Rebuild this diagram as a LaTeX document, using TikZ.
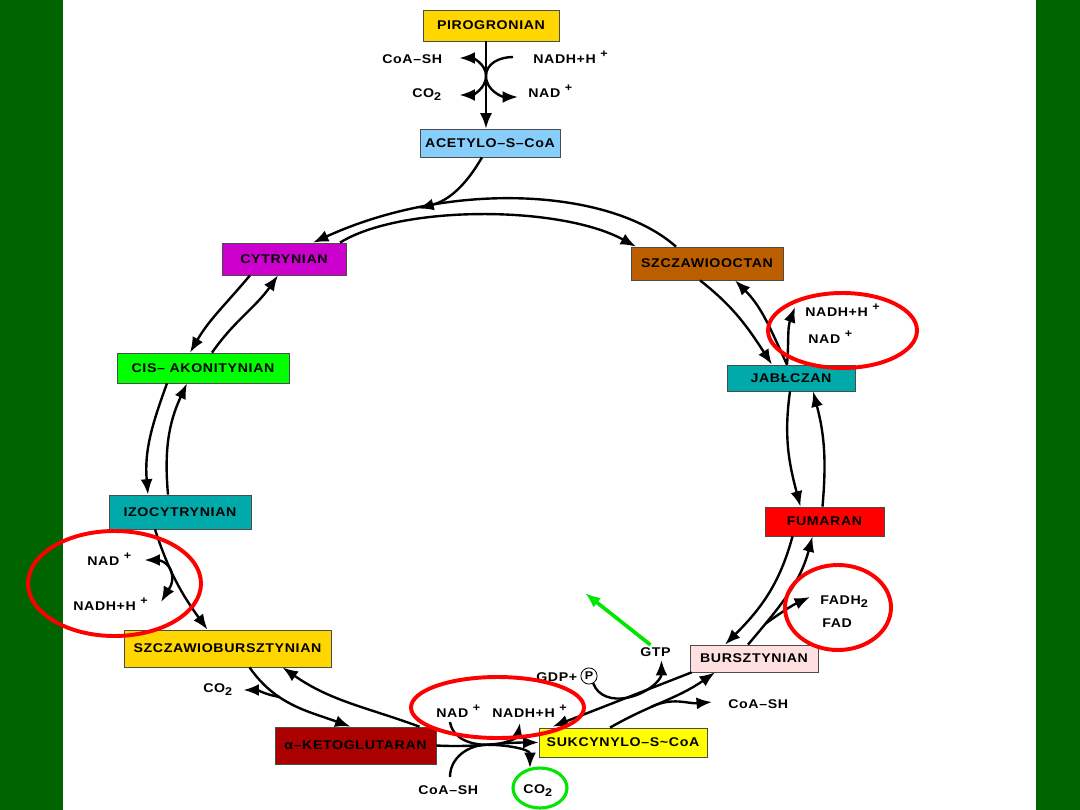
\documentclass[tikz,border=0pt]{standalone}
\usepackage{fontspec}
\setmainfont{Liberation Sans}[FakeStretch=1.12,LetterSpace=5]
\usetikzlibrary{calc,arrows.meta}
\usepackage{xcolor}

\definecolor{bggreen}{RGB}{0,100,0}
\definecolor{cgold}{RGB}{255,214,0}
\definecolor{cskyb}{RGB}{135,206,250}
\definecolor{cmagenta}{RGB}{204,0,204}
\definecolor{cbrown}{RGB}{187,94,0}
\definecolor{clime}{RGB}{0,255,0}
\definecolor{cteal}{RGB}{0,170,170}
\definecolor{cred}{RGB}{255,0,0}
\definecolor{cpink}{RGB}{255,224,224}
\definecolor{cdarkred}{RGB}{170,0,0}
\definecolor{cyellow}{RGB}{255,255,0}
\definecolor{ringgreen}{RGB}{0,230,0}

\newcommand{\upmark}[1]{\raisebox{0.75ex}{\fontsize{8}{8}\selectfont #1}}
\newcommand{\lowmark}[1]{\raisebox{-0.55ex}{\fontsize{8}{8}\selectfont #1}}

\begin{document}
\begin{tikzpicture}[x=0.025cm,y=-0.025cm,
    box/.style={draw=black!70,line width=0.5pt,inner sep=0pt,font=\bfseries\fontsize{9}{10}\selectfont},
    lbl/.style={anchor=base west,inner sep=0pt,font=\bfseries\fontsize{9}{10}\selectfont},
    arr/.style={line width=1.7pt,-{Latex[length=11pt,width=8.5pt]}},
    twoway/.style={line width=1.7pt,{Latex[length=11pt,width=8.5pt]}-{Latex[length=11pt,width=8.5pt]}},
    ring/.style={draw=red,line width=2.8pt}
  ]
  % background
  \fill[bggreen] (0,0) rectangle (1080,810);
  \fill[white] (63,0) rectangle (1036,810);

  % metabolites
  \node[box,fill=cgold,minimum width=3.4cm,minimum height=0.775cm] (piro) at (491,25.5) {PIROGRONIAN};
  \node[box,fill=cskyb,minimum width=3.5cm,minimum height=0.7cm] (acet) at (490,143) {ACETYLO–S–CoA};
  \node[box,fill=cmagenta,minimum width=3.1cm,minimum height=0.8cm] (cyt) at (284,259) {CYTRYNIAN};
  \node[box,fill=cbrown,minimum width=3.8cm,minimum height=0.825cm] (szo) at (707,263.5) {SZCZAWIOOCTAN};
  \node[box,fill=clime,minimum width=4.3cm,minimum height=0.75cm] (cis) at (203,368) {CIS– AKONITYNIAN};
  \node[box,fill=cteal,minimum width=3.2cm,minimum height=0.65cm] (jab) at (791,378) {JABŁCZAN};
  \node[box,fill=cteal,minimum width=3.55cm,minimum height=0.85cm] (izo) at (180,512) {IZOCYTRYNIAN};
  \node[box,fill=cred,minimum width=2.975cm,minimum height=0.725cm] (fum) at (824.5,521.5) {FUMARAN};
  \node[box,fill=cgold,minimum width=5.175cm,minimum height=0.925cm] (szb) at (227.5,648.5) {SZCZAWIOBURSZTYNIAN};
  \node[box,fill=cpink,minimum width=3.2cm,minimum height=0.675cm] (bur) at (754,658.5) {BURSZTYNIAN};
  \node[box,fill=cdarkred,minimum width=4.025cm,minimum height=0.925cm] (akg) at (355.5,745.5) {α–KETOGLUTARAN};
  \node[box,fill=cyellow,minimum width=4.2cm,minimum height=0.725cm] (suk) at (623,742.5) {SUKCYNYLO–S\textasciitilde CoA};

  % cofactors
  \node[lbl] (coa1) at (382,63) {CoA–SH};
  \node[lbl] (nadh1) at (533,63) {NADH+H \upmark{+}};
  \node[lbl] (co2a) at (412,97) {CO\lowmark{2}};
  \node[lbl] (nad1) at (528,97) {NAD \upmark{+}};
  \node[lbl] (nadh2) at (805,316) {NADH+H \upmark{+}};
  \node[lbl] (nad2) at (808,343) {NAD \upmark{+}};
  \node[lbl] (nadl) at (87,565) {NAD \upmark{+}};
  \node[lbl] (nadhl) at (73,610) {NADH+H \upmark{+}};
  \node[lbl] (co2l) at (203,692) {CO\lowmark{2}};
  \node[lbl] (fadh) at (820,604) {FADH\lowmark{2}};
  \node[lbl] (fad) at (822,627) {FAD};
  \node[lbl] (gdp) at (536,681) {GDP+};
  \node[circle,draw,inner sep=1.2pt,line width=0.6pt,font=\bfseries\fontsize{8}{8}\selectfont] (pcirc) at (589,676) {P};
  \node[lbl] (gtp) at (640,656) {GTP};
  \node[lbl] (nad3) at (436,717) {NAD \upmark{+}};
  \node[lbl] (nadh3) at (492,717) {NADH+H \upmark{+}};
  \node[lbl] (coa3) at (418,794) {CoA–SH};
  \node[lbl] (co2b) at (523,793) {CO\lowmark{2}};
  \node[lbl] (coa4) at (728,708) {CoA–SH};
  \coordinate (gtip) at (585,593);

  % pyruvate -> acetyl-CoA
  \draw[arr] ($(piro.south)+(-5,0)$) -- ($(acet.north)+(-4,0)$);
  \coordinate (pj) at (486,76);
  \draw[twoway] ($(coa1.base east)+(17,-5)$) to[out=0,in=90] (pj) to[out=-90,in=0] ($(co2a.base east)+(18,-2)$);
  \draw[arr] ($(nadh1.base west)+(-20,-6)$) to[out=180,in=90] (pj) to[out=-90,in=180] ($(nad1.base west)+(-10,0)$);

  % top of the cycle
  \draw[arr] ($(szo.north)+(-31,0)$) .. controls (610,188) and (450,180) .. ($(cyt.north)+(29,0)$) coordinate[pos=0.75] (aj);
  \draw[arr] ($(acet.south)+(-8,0)$) to[out=240,in=15] (aj);
  \draw[arr] ($(cyt.north)+(56,0)$) .. controls (400,205) and (560,205) .. ($(szo.north)+(-71,0)$);

  % left side
  \draw[arr] ($(cyt.south)+(-34,0)$) to[out=230,in=60] ($(cis.north)+(-13,0)$);
  \draw[arr] ($(cis.north)+(9,0)$) to[out=55,in=235] ($(cyt.south)+(-6,0)$);
  \draw[arr] ($(cis.south)+(-36,0)$) to[out=250,in=95] ($(izo.north)+(-32,0)$);
  \draw[arr] ($(izo.north)+(-12,0)$) to[out=95,in=245] ($(cis.south)+(-16,0)$);
  \draw[arr] ($(izo.south)+(-25,0)$) to[out=-72,in=126] coordinate[pos=0.38] (ij) ($(szb.north)+(-20,0)$);
  \draw[twoway] ($(nadl.base east)+(13,-5)$) to[out=0,in=110] (ij) to[out=-70,in=60] ($(nadhl.base east)+(13,-8)$);

  % bottom
  \draw[arr] ($(szb.south)+(22,0)$) to[out=-55,in=160] coordinate[pos=0.35] (sj1) ($(akg.north)+(-5,0)$);
  \draw[arr] ($(akg.north)+(64,0)$) to[out=160,in=-35] ($(szb.south)+(55,0)$);
  \draw[arr] (sj1) to[out=170,in=0] ($(co2l.base east)+(11,-2)$);
  \draw[arr] (akg.east) to[out=-3,in=180] coordinate[pos=0.5] (kj) (suk.west);
  \draw[arr] ($(nad3.base west)+(14,5)$) to[out=-80,in=180] (kj) to[out=0,in=-100] ($(nadh3.base west)+(28,6)$);
  \draw[arr] ($(coa3.base west)+(32,-17)$) to[out=90,in=180] (kj) to[out=0,in=90] ($(co2b.base west)+(7,-25)$);
  \draw[arr] ($(bur.south west)+(2,0)$) -- coordinate[pos=0.47] (gj) ($(suk.north west)+(14,-1)$);
  \draw[arr] (pcirc.-60) to[out=-70,in=190] (gj) to[out=10,in=-90] ($(gtp.base)+(6,4)$);
  \draw[arr] ($(suk.north)+(-13,0)$) to[out=30,in=215] coordinate[pos=0.38] (sj2) ($(bur.south)+(-39,0)$);
  \draw[arr] (sj2) to[out=25,in=185] ($(coa4.base west)+(-16,-6)$);

  % right side
  \draw[arr] ($(fum.south)+(-32,0)$) to[out=255,in=45] ($(bur.north)+(-29,0)$);
  \draw[arr] ($(bur.north)+(-6,0)$) to[out=50,in=255] coordinate[pos=0.2] (bj) ($(fum.south)+(-12,0)$);
  \draw[arr] (bj) to[out=35,in=205] ($(fadh.base west)+(-10,-7)$);
  \draw[arr] ($(jab.south)+(-1,0)$) to[out=262,in=105] ($(fum.north)+(-24,0)$);
  \draw[arr] ($(fum.north)+(-2,0)$) to[out=85,in=-75] ($(jab.south)+(22,0)$);
  \draw[arr] ($(szo.south)+(-7,0)$) to[out=-38,in=123] ($(jab.north)+(-19,0)$);
  \draw[arr] ($(jab.north)+(-4,0)$) to[out=115,in=-45] ($(szo.south)+(28,0)$);
  \draw[arr] ($(jab.north)+(-4,0)$) to[out=85,in=250] ($(nadh2.base west)+(-10,-9)$);

  % highlights
  \draw[ring] (842.5,330.5) ellipse [x radius=74.5,y radius=37.5];
  \draw[ring] (114.5,583.5) ellipse [x radius=86.5,y radius=52.5];
  \draw[ring] (838,607.5) ellipse [x radius=53,y radius=42.5];
  \draw[ring] (497.5,707.5) ellipse [x radius=86.5,y radius=30.5];
  \draw[draw=ringgreen,line width=2.2pt] (540,788) ellipse [x radius=27,y radius=20];
  \draw[draw=ringgreen,line width=2.6pt,-{Latex[length=11pt,width=8.5pt]}] ($(gtp.north)+(-5,-2)$) -- (gtip);
\end{tikzpicture}
\end{document}
